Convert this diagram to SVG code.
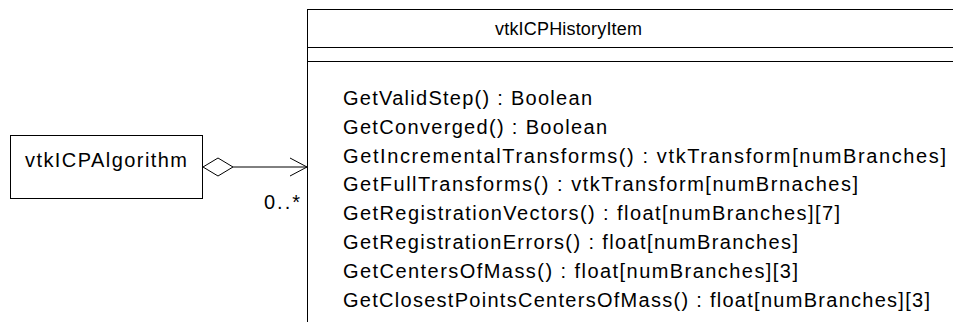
<svg xmlns="http://www.w3.org/2000/svg" width="953" height="322" viewBox="0 0 953 322">
  <style>
    .box { fill: #ffffff; stroke: #000000; stroke-width: 1; shape-rendering: crispEdges; }
    .sep { stroke: #000000; stroke-width: 1; shape-rendering: crispEdges; }
    .lbl { font-family: "Liberation Sans", Arial, sans-serif; font-size: 20px; fill: #000000; }
    .title { font-size: 18px; }
    .edge { fill: none; stroke: #000000; stroke-width: 1; }
    .diamond { fill: #ffffff; stroke: #000000; stroke-width: 1; }
  </style>
  <rect width="953" height="322" fill="#ffffff"/>

  <!-- connectors -->
  <g id="connectors">
    <g id="aggregation">
      <line class="edge" x1="233" y1="167" x2="307" y2="167"/>
      <polygon class="diamond" points="203,167 218,158 233,167 218,176"/>
      <polyline class="edge" points="290,158 307,167 290,176"/>
      <text class="lbl" x="264" y="209" textLength="36">0..*</text>
    </g>
  </g>

  <!-- vtkICPAlgorithm -->
  <g id="vtkICPAlgorithm">
    <rect class="box" x="10.5" y="135.5" width="192" height="63"/>
    <text class="lbl" x="25" y="167" textLength="162">vtkICPAlgorithm</text>
  </g>

  <!-- vtkICPHistoryItem -->
  <g id="vtkICPHistoryItem">
    <rect class="box" x="307.5" y="9.5" width="700" height="400"/>
    <line class="sep" x1="307" y1="47.5" x2="953" y2="47.5"/>
    <line class="sep" x1="307" y1="61.5" x2="953" y2="61.5"/>
    <text class="lbl title" x="495" y="35" textLength="147">vtkICPHistoryItem</text>
    <text class="lbl" x="343" y="105" textLength="249">GetValidStep() : Boolean</text>
    <text class="lbl" x="343" y="133.8" textLength="264">GetConverged() : Boolean</text>
    <text class="lbl" x="343" y="162.6" textLength="603">GetIncrementalTransforms() : vtkTransform[numBranches]</text>
    <text class="lbl" x="343" y="191.4" textLength="515">GetFullTransforms() : vtkTransform[numBrnaches]</text>
    <text class="lbl" x="343" y="220.2" textLength="497">GetRegistrationVectors() : float[numBranches][7]</text>
    <text class="lbl" x="343" y="249" textLength="455">GetRegistrationErrors() : float[numBranches]</text>
    <text class="lbl" x="343" y="277.8" textLength="455">GetCentersOfMass() : float[numBranches][3]</text>
    <text class="lbl" x="343" y="306.6" textLength="587">GetClosestPointsCentersOfMass() : float[numBranches][3]</text>
  </g>
</svg>
